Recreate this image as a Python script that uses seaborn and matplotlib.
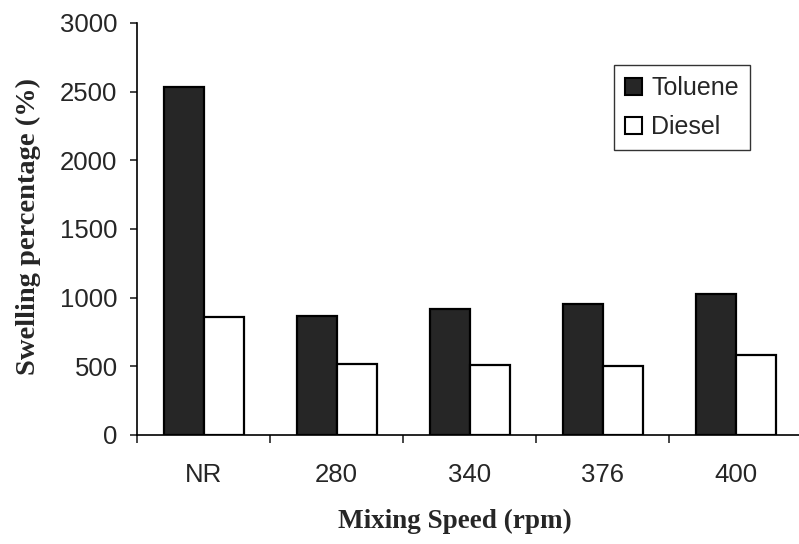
import matplotlib
matplotlib.use("Agg")
import matplotlib.pyplot as plt
import seaborn as sns
import pandas as pd
from matplotlib.patches import Patch

categories = ["NR", "280", "340", "376", "400"]
toluene = [2535, 867, 915, 954, 1027]
diesel = [859, 517, 510, 502, 583]
series_names = ["Toluene", "Diesel"]
yticks = [0, 500, 1000, 1500, 2000, 2500, 3000]

df = pd.DataFrame({
    "speed": categories * 2,
    "value": toluene + diesel,
    "solvent": [series_names[0]] * len(categories) + [series_names[1]] * len(categories),
})

sns.set_style("white")
plt.rcParams["font.family"] = ["Liberation Sans", "DejaVu Sans"]

fig = plt.figure(figsize=(7.99, 5.44), dpi=100)
ax = fig.add_axes([0.1715, 0.2004, 0.833, 0.7574])

palette = {"Toluene": "#262626", "Diesel": "#ffffff"}
sns.barplot(data=df, x="speed", y="value", hue="solvent", order=categories,
            hue_order=series_names, palette=palette, width=0.6,
            edgecolor="black", linewidth=1.6, saturation=1, ax=ax, legend=False)

ax.set_xlim(-0.5, len(categories) - 0.5)
ax.set_ylim(0, 3000)
ax.set_yticks(yticks)
ax.set_yticklabels([str(v) for v in yticks], fontsize=18.5)
ax.set_xticks(range(len(categories)))
ax.set_xticklabels(categories, fontsize=18.5)
ax.set_xticks([i - 0.5 for i in range(len(categories) + 1)], minor=True)
ax.tick_params(axis="x", which="major", length=0, pad=20)
ax.tick_params(axis="x", which="minor", length=6, width=1.2, direction="out", bottom=True)
ax.tick_params(axis="y", which="major", length=5, width=1.2, direction="out", pad=9, left=True)

for s in ["top", "right"]:
    ax.spines[s].set_visible(False)
for s in ["left", "bottom"]:
    ax.spines[s].set_color("black")
    ax.spines[s].set_linewidth(1.2)

ax.set_xlabel("")
ax.set_ylabel("")
fig.text(0.036, 0.583, "Swelling percentage (%)", rotation=90, ha="center", va="center",
         fontsize=20.5, fontweight="bold", family=["Liberation Serif", "DejaVu Serif"])
fig.text(0.569, 0.042, "Mixing Speed (rpm)", ha="center", va="center",
         fontsize=19.5, fontweight="bold", family=["Liberation Serif", "DejaVu Serif"])

handles = [Patch(facecolor="#262626", edgecolor="black", linewidth=1.5),
           Patch(facecolor="white", edgecolor="black", linewidth=1.5)]
leg = ax.legend(handles, series_names, loc="upper left", bbox_to_anchor=(0.716, 0.898),
                fontsize=18, frameon=True, fancybox=False, edgecolor="black",
                handlelength=0.7, handleheight=0.7, handletextpad=0.35,
                borderpad=0.45, labelspacing=0.6, borderaxespad=0)
leg.get_frame().set_linewidth(1.0)

fig.savefig("out.png", dpi=100, facecolor="white")
